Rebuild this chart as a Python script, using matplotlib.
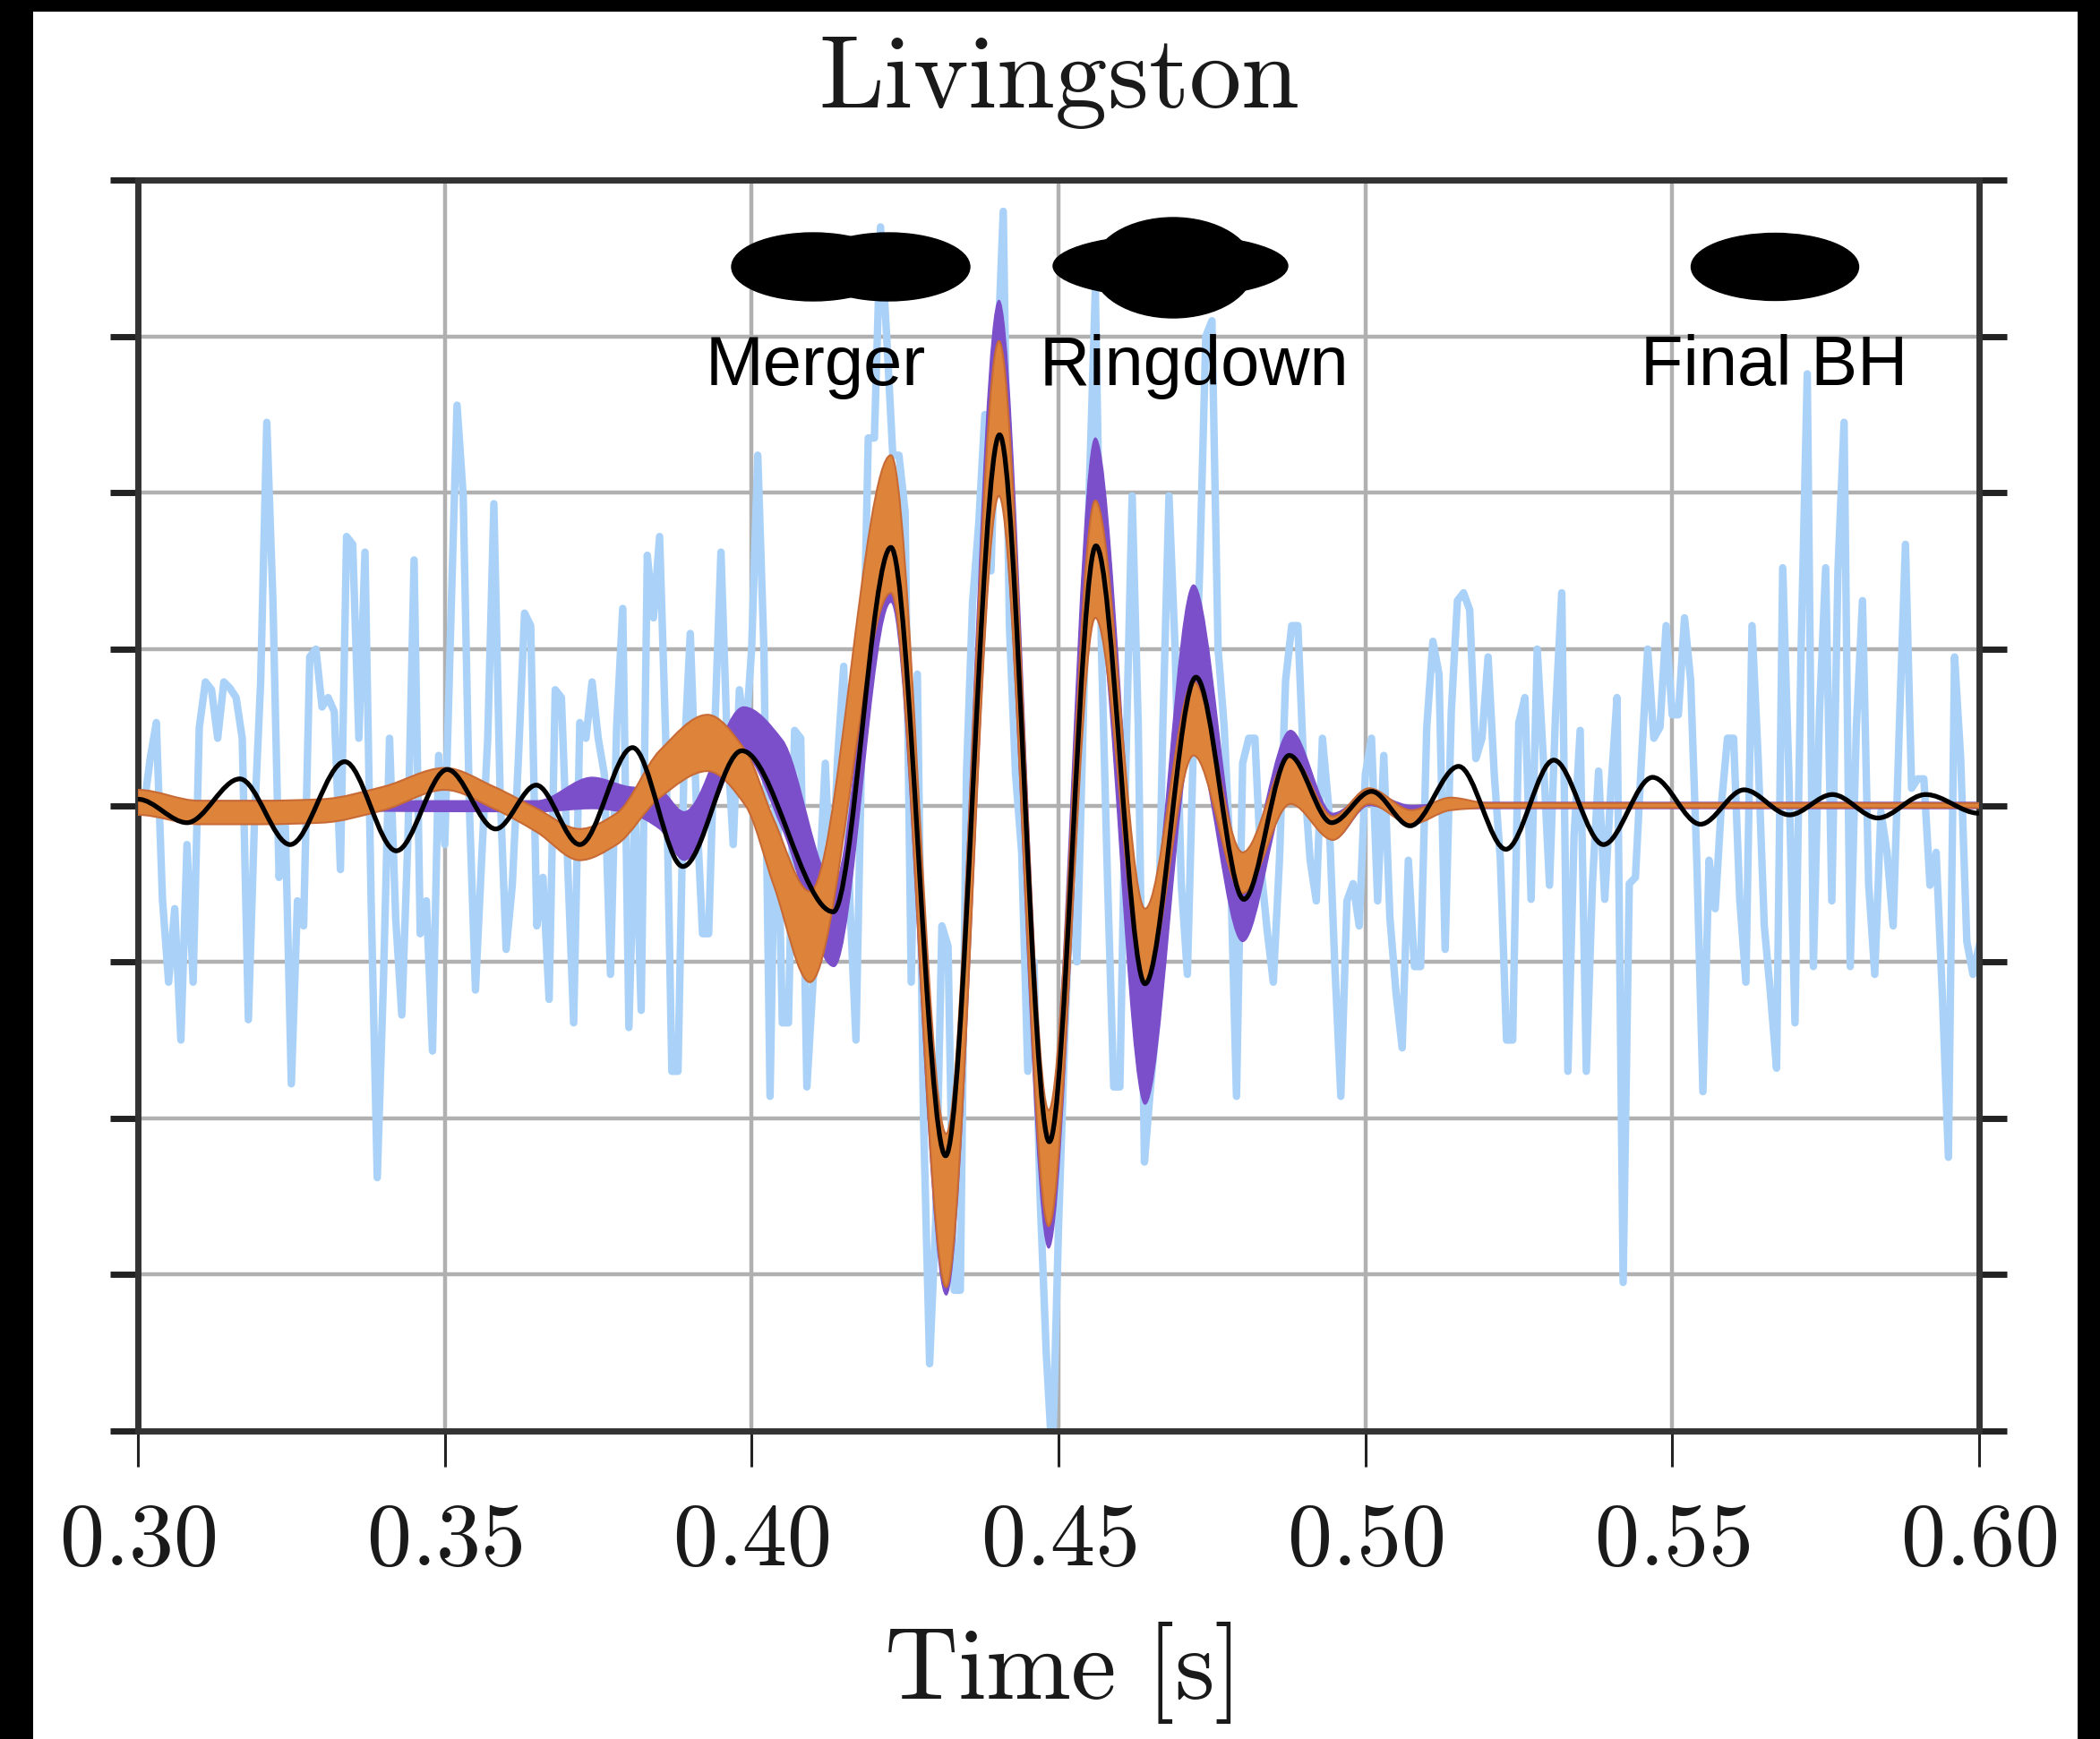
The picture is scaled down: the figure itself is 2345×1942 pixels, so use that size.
import numpy as np
import matplotlib
matplotlib.use("Agg")
import matplotlib.pyplot as plt
from matplotlib.path import Path
from matplotlib.patches import PathPatch, Ellipse, Rectangle
from matplotlib.ticker import FixedLocator, FuncFormatter

plt.rcParams['mathtext.fontset'] = 'cm'

# whitened strain, one sample per ms from 0.300 s
data_y = [
    0.1, 0.0, 0.3, 0.53, -0.6, -1.13, -0.66, -1.5, -0.25, -1.13,
    0.5, 0.79, 0.74, 0.43, 0.79, 0.75, 0.69, 0.43, -1.37, -0.09,
    0.79, 2.45, 1.31, -0.46, -0.09, -1.78, -0.61, -0.77, 0.95, 1.0,
    0.63, 0.69, 0.6, -0.41, 1.72, 1.67, 0.43, 1.62, -0.61, -2.38,
    -1.13, 0.43, -0.72, -1.34, -0.2, 1.57, -0.82, -0.61, -1.57, 0.32,
    -0.25, 1.2, 2.56, 1.98, 0.0, -1.18, -0.35, 0.43, 1.93, 0.11,
    -0.92, -0.51, 0.3, 1.23, 1.15, -0.77, -0.46, -1.24, 0.74, 0.69,
    -0.35, -1.39, 0.53, 0.43, 0.79, 0.43, 0.2, -1.08, 0.5, 1.26,
    -1.42, 0.0, -1.31, 1.6, 1.2, 1.72, 0.43, -1.7, -1.7, 0.3,
    1.1, 0.0, -0.82, -0.82, 0.5, 1.62, 0.43, -0.25, 0.74, 0.43,
    1.0, 2.24, 1.0, -1.86, 0.43, -1.39, -1.39, 0.48, 0.43, -1.8,
    -1.13, -0.5, 0.27, -0.61, 0.3, 0.89, -0.61, -1.5, 0.5, 2.35,
    2.35, 3.7, 3.0, 2.24, 2.24, 1.88, -1.13, 0.84, -2.0, -3.57,
    -2.64, -0.77, -0.9, -3.1, -3.1, 0.2, 1.3, 1.8, 2.5, 1.5,
    2.8, 3.8, 1.15, 0.2, -0.3, -1.7, -1.0, -2.5, -3.5, -4.2,
    -2.7, -1.5, -0.5, -1.0, 0.5, 2.0, 3.3, 1.0, -0.5, -1.8,
    -1.8, 0.3, 1.98, 0.5, -2.28, -1.8, -1.39, 0.5, 1.98, 1.0,
    -0.5, -1.08, 0.43, 1.5, 3.0, 3.1, 1.0, 0.5, -0.35, -1.86,
    0.27, 0.43, 0.43, -0.4, -0.8, -1.13, -0.35, 0.8, 1.15, 1.15,
    0.2, -0.35, -0.61, 0.43, 0.0, -1.0, -1.86, -0.61, -0.5, -0.77,
    0.2, 0.43, -0.61, 0.32, -0.72, -1.2, -1.55, -0.35, -1.03, -1.03,
    0.5, 1.05, 0.84, -0.92, 0.6, 1.31, 1.36, 1.25, 0.3, 0.43,
    0.95, 0.2, -0.35, -1.5, -1.5, 0.53, 0.69, -0.6, 1.0, 0.3,
    -0.51, 0.6, 1.36, -1.7, -0.2, 0.48, -1.7, -0.5, 0.22, -0.6,
    0.1, 0.69, -3.05, -0.5, -0.46, 0.3, 1.0, 0.43, 0.5, 1.15,
    0.58, 0.58, 1.2, 0.8, -0.35, -1.83, -0.35, -0.66, 0.0, 0.43,
    0.43, -0.6, -1.13, 1.15, 0.3, -0.77, -1.2, -1.68, 1.52, 0.2,
    -1.39, 1.0, 2.76, -1.03, 0.6, 1.52, -0.61, 1.5, 2.45, -1.03,
    0.5, 1.31, -0.5, -1.08, -0.04, -0.3, -0.77, 0.5, 1.67, 0.11,
    0.17, 0.17, -0.51, -0.3, -1.2, -2.25, 0.95, 0.3, -0.87, -1.08, -0.9,
]
data_t = 0.300 + 0.001 * np.arange(len(data_y))

# black template: turning points
black_t = [0.300, 0.308, 0.3166, 0.3248, 0.3337, 0.3421, 0.3504, 0.3583, 0.3649,
           0.3720, 0.3806, 0.3888, 0.3984, 0.4133, 0.4227, 0.4316, 0.4404, 0.4485,
           0.4561, 0.4641, 0.4724, 0.4802, 0.4876, 0.4945, 0.5010, 0.5073, 0.5152,
           0.5229, 0.5307, 0.5388, 0.5468, 0.5546, 0.5617, 0.5691, 0.5761, 0.5835,
           0.5913, 0.600]
black_y = [0.04, -0.11, 0.17, -0.25, 0.28, -0.29, 0.23, -0.15, 0.13,
           -0.25, 0.37, -0.39, 0.35, -0.68, 1.65, -2.24, 2.37, -2.15,
           1.66, -1.14, 0.82, -0.60, 0.32, -0.11, 0.09, -0.13, 0.25,
           -0.28, 0.29, -0.25, 0.18, -0.12, 0.10, -0.06, 0.07, -0.08,
           0.07, -0.05]

# orange credible band
orange_t = [0.300, 0.310, 0.320, 0.330, 0.340, 0.350, 0.358, 0.365, 0.372, 0.378,
            0.385, 0.3928, 0.399, 0.4036, 0.4095, 0.4227, 0.4317, 0.4403, 0.4484,
            0.4560, 0.4641, 0.4720, 0.4800, 0.4878, 0.4947, 0.5006, 0.5075, 0.5139,
            0.520, 0.600]
orange_lo = [-0.06, -0.12, -0.12, -0.11, -0.03, 0.10, -0.02, -0.17, -0.35, -0.25,
             0.05, 0.22, 0.00, -0.51, -1.13, 1.36, -3.08, 1.98, -2.69,
             1.20, -1.13, 0.32, -0.56, 0.01, -0.22, 0.01, -0.12, -0.03,
             -0.015, -0.015]
orange_hi = [0.10, 0.03, 0.03, 0.04, 0.12, 0.24, 0.12, -0.02, -0.15, -0.05,
             0.35, 0.58, 0.35, -0.09, -0.55, 2.24, -2.10, 2.97, -1.95,
             1.95, -0.66, 0.79, -0.30, 0.32, -0.07, 0.11, -0.03, 0.05,
             0.015, 0.015]

# purple credible band
purple_t = [0.300, 0.365, 0.374, 0.380, 0.385, 0.389, 0.3987, 0.405, 0.4134, 0.4227,
            0.4317, 0.4403, 0.4484, 0.4560, 0.4641, 0.4720, 0.4800, 0.4878, 0.4947,
            0.5006, 0.5075, 0.515, 0.600]
purple_lo = [-0.03, -0.04, -0.02, -0.05, -0.15, -0.35, 0.32, -0.15, -1.03, 1.30,
             -3.13, 2.00, -2.83, 1.30, -1.91, 0.40, -0.87, 0.10, -0.22,
             0.00, -0.08, -0.02, -0.02]
purple_hi = [0.03, 0.03, 0.18, 0.12, 0.10, -0.04, 0.63, 0.42, -0.50, 2.05,
             -2.20, 3.23, -2.00, 2.35, -0.90, 1.41, -0.40, 0.48, -0.05,
             0.08, 0.00, 0.02, 0.02]

x_ticks = [0.30, 0.35, 0.40, 0.45, 0.50, 0.55, 0.60]
y_ticks = [-4, -3, -2, -1, 0, 1, 2, 3, 4]
labels = ["Merger", "Ringdown", "Final BH"]

W, H = 2345, 1942


def curve_verts(t, y):
    # bezier segments through the points, flat at turning points
    t = np.asarray(t, float)
    y = np.asarray(y, float)
    h = np.diff(t)
    d = np.diff(y) / h
    m = np.zeros_like(y)
    for i in range(1, len(y) - 1):
        if d[i - 1] * d[i] > 0:
            w1 = 2 * h[i] + h[i - 1]
            w2 = h[i] + 2 * h[i - 1]
            m[i] = (w1 + w2) / (w1 / d[i - 1] + w2 / d[i])
    verts = [(t[0], y[0])]
    for i in range(len(h)):
        verts.append((t[i] + h[i] / 3, y[i] + m[i] * h[i] / 3))
        verts.append((t[i + 1] - h[i] / 3, y[i + 1] - m[i + 1] * h[i] / 3))
        verts.append((t[i + 1], y[i + 1]))
    return verts


def line_path(t, y):
    v = curve_verts(t, y)
    codes = [Path.MOVETO] + [Path.CURVE4] * (len(v) - 1)
    return Path(v, codes)


def band_path(t, lo, hi):
    up = curve_verts(t, hi)
    dn = curve_verts(t, lo)[::-1]
    v = up + dn + [up[0]]
    codes = ([Path.MOVETO] + [Path.CURVE4] * (len(up) - 1)
             + [Path.LINETO] + [Path.CURVE4] * (len(dn) - 1) + [Path.CLOSEPOLY])
    return Path(v, codes)


fig = plt.figure(figsize=(W / 100, H / 100), dpi=100)
fig.patch.set_facecolor('black')
fig.add_artist(Rectangle((37 / W, 0), (2320 - 37) / W, (H - 13) / H,
                         transform=fig.transFigure, facecolor='white',
                         edgecolor='none', zorder=-5))

ax = fig.add_axes([154 / W, 344 / H, (2210 - 154) / W, (1598 - 201) / H])
ax.set_facecolor('white')
ax.set_axisbelow(True)

ax.plot(data_t, data_y, color='#aad2f8', lw=6, zorder=1)
ax.add_patch(PathPatch(band_path(purple_t, purple_lo, purple_hi),
                       facecolor='#7b4fca', edgecolor='#7b4fca', lw=1, zorder=2))
ax.add_patch(PathPatch(band_path(orange_t, orange_lo, orange_hi),
                       facecolor='#de843a', edgecolor='#c86a35', lw=1.5, zorder=3))
ax.add_patch(PathPatch(line_path(black_t, black_y), fill=False,
                       edgecolor='black', lw=3.8, zorder=4))

ax.set_xlim(0.30, 0.60)
ax.set_ylim(-4, 4)
ax.xaxis.set_major_locator(FixedLocator(x_ticks))
ax.yaxis.set_major_locator(FixedLocator(y_ticks))
ax.xaxis.set_major_formatter(FuncFormatter(lambda v, p: r'$%.2f$' % v))
ax.yaxis.set_major_formatter(FuncFormatter(lambda v, p: ''))
ax.grid(True, color='#b0b0b0', lw=3.2)

for s in ax.spines.values():
    s.set_color('#333333')
    s.set_linewidth(5)
ax.tick_params(axis='x', direction='out', length=29, width=2.2, color='#222222',
               labelsize=72, pad=24, top=False, labelcolor='#1a1a1a')
ax.tick_params(axis='y', direction='out', length=22, width=5, color='#222222',
               left=True, right=True)

fig.text(1182 / W, 1 - 120 / H, r'$\mathrm{Livingston}$', ha='center',
         va='baseline', size=84, color='#1a1a1a')
fig.text(1182 / W, 1 - 1897 / H, r'$\mathrm{Time\ [s]}$', ha='center',
         va='baseline', size=82, color='#1a1a1a')

for name, x in zip(labels, [911, 1333, 1981]):
    fig.text(x / W, 1 - 430 / H, name, ha='center', va='baseline', size=56,
             family=['Liberation Sans', 'DejaVu Sans'], color='black', zorder=10)


def blob(cx, cy, w, h):
    fig.add_artist(Ellipse((cx / W, 1 - cy / H), w / W, h / H,
                           transform=fig.transFigure, color='black', zorder=11))


blob(908, 298, 182, 76)
blob(992, 298, 182, 76)
blob(1307, 297, 262, 70)
blob(1310, 299, 180, 112)
blob(1982, 298, 187, 75)

fig.savefig('out.png', dpi=100)
